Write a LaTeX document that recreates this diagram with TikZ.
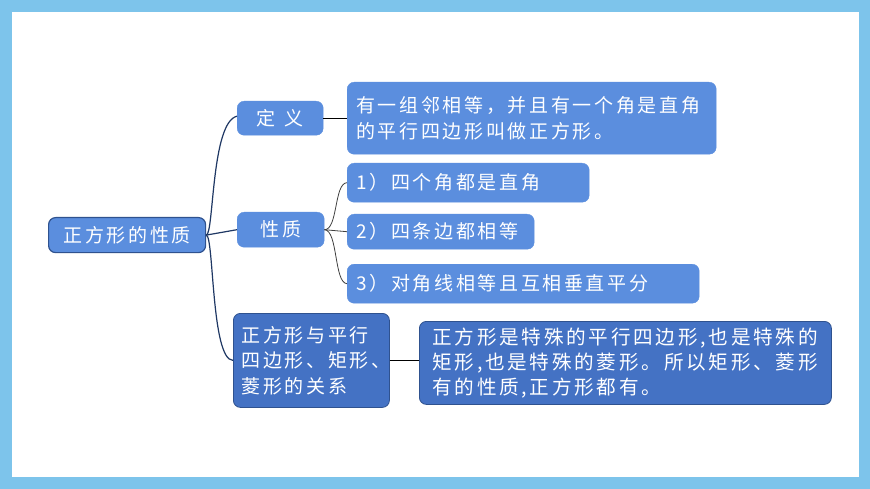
\documentclass[tikz,border=0pt]{standalone}
\usepackage{fontspec}
\newfontfamily\cjk{Noto Sans CJK SC}[LetterSpace=14]
\newfontfamily\cjkwide{Noto Sans CJK SC}[LetterSpace=45]
\definecolor{bgblue}{HTML}{7DC4EB}
\definecolor{lightnode}{HTML}{5B8EDE}
\definecolor{darknode}{HTML}{4472C4}
\definecolor{navy}{HTML}{2F528F}
\definecolor{brace}{HTML}{1F3864}
\definecolor{twig}{HTML}{404040}
\tikzset{
  base/.style={rounded corners=7pt, anchor=north west, text=white, inner xsep=9pt, inner ysep=0pt,
    font=\cjk\fontsize{19}{25.5}\selectfont},
  lnode/.style={base, fill=lightnode, draw=lightnode},
  dnode/.style={base, fill=darknode, draw=navy, line width=0.8pt},
  rootnode/.style={base, fill=lightnode, draw=navy, line width=1.2pt, align=center},
  branch/.style={draw=brace, line width=1.2pt},
  twigline/.style={draw=twig, line width=0.8pt},
}
\begin{document}
\begin{tikzpicture}[x=1pt,y=-1pt]
\useasboundingbox (0,0) rectangle (870,489);
\fill[bgblue] (0,0) rectangle (870,489);
\fill[white] (12,12) rectangle (859,477);

\node[rootnode, minimum width=157pt, minimum height=35pt] (root) at (48,217) {正方形的性质};
\node[lnode, minimum width=86pt, minimum height=34pt, align=center, font=\cjkwide\fontsize{19}{25}\selectfont] (def) at (237,101) {定义};
\node[lnode, minimum width=369pt, minimum height=72pt, text width=351pt, align=left] (defbox) at (347,82) {有一组邻相等，并且有一个角是直角\\的平行四边形叫做正方形。};
\node[lnode, minimum width=87pt, minimum height=35pt, align=center] (prop) at (237,212) {性质};
\node[lnode, minimum width=242pt, minimum height=39pt, text width=224pt, align=left] (p1) at (347,163) {1）四个角都是直角};
\node[lnode, minimum width=187pt, minimum height=35pt, text width=169pt, align=left] (p2) at (347,214) {2）四条边都相等};
\node[lnode, minimum width=352pt, minimum height=39pt, text width=334pt, align=left] (p3) at (347,264) {3）对角线相等且互相垂直平分};
\node[dnode, minimum width=156pt, minimum height=94pt, text width=140pt, align=left, inner xsep=8pt] (rel) at (233,313) {正方形与平行\\四边形、矩形、\\菱形的关系};
\node[dnode, minimum width=412pt, minimum height=83pt, text width=386pt, align=left, inner xsep=13pt, font=\cjk\fontsize{19.6}{25}\selectfont] (expl) at (419,321) {正方形是特殊的平行四边形,也是特殊的\\矩形,也是特殊的菱形。所以矩形、菱形\\有的性质,正方形都有。};

% main brace
\draw[branch] (root.east) .. controls (214,235) and (211,122) .. ([yshift=2pt]def.west);
\draw[branch] (root.east) -- (prop.west);
\draw[branch] (root.east) .. controls (214,235) and (211,360) .. (rel.west);

% second level
\draw[line width=1pt, draw=black] (def.east) -- (def.east -| defbox.west);
\draw[line width=1pt, draw=black] (rel.east) -- (rel.east -| expl.west);
\draw[twigline] (prop.east) .. controls (338,230) and (334,183) .. (p1.west);
\draw[twigline] (prop.east) -- (p2.west);
\draw[twigline] (prop.east) .. controls (338,230) and (334,283) .. (p3.west);
\end{tikzpicture}
\end{document}
